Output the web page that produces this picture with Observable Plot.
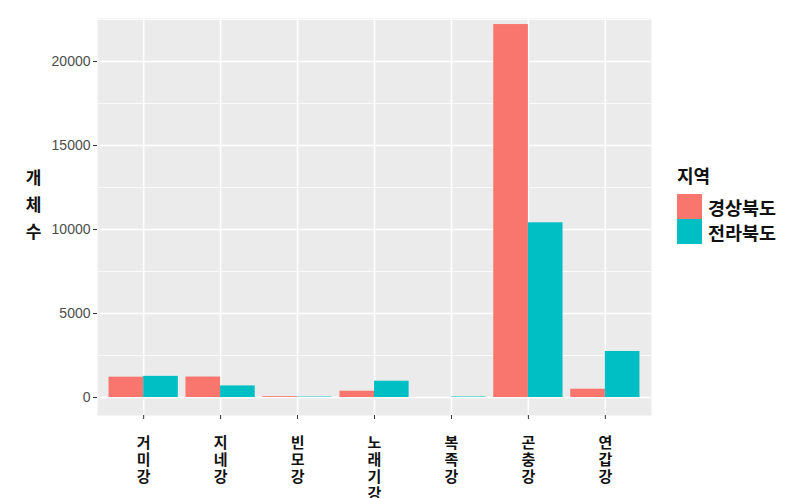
<!DOCTYPE html>
<html>
<head>
<meta charset="utf-8">
<script src="https://cdn.jsdelivr.net/npm/d3@7"></script>
<script src="https://cdn.jsdelivr.net/npm/@observablehq/plot@0.6"></script>
<style>
  html, body { margin: 0; padding: 0; background: #fff; }
  #wrap { position: relative; width: 786px; height: 498px; overflow: hidden; }
  #legend { position: absolute; left: 677px; top: 162px; font-family: "Noto Sans CJK KR", sans-serif; color: #111; }
  #legend .title { font-size: 18px; font-weight: bold; margin-bottom: 6px; }
  #legend .row { display: flex; align-items: center; height: 25px; }
  #legend .sw { width: 25px; height: 25px; margin-right: 6px; }
  #legend .lab { font-size: 18.5px; font-weight: bold; }
</style>
</head>
<body>
<div id="wrap"><div id="chart"></div><div id="legend"></div></div>
<script>
const categories = ["거미강", "지네강", "빈모강", "노래기강", "복족강", "곤충강", "연갑강"];
const regions = ["경상북도", "전라북도"];
const gyeongbuk = [1210, 1220, 50, 375, 0, 22200, 495];
const jeonbuk = [1260, 690, 25, 970, 30, 10400, 2740];
const colors = ["#F8766D", "#00BFC4"];
const yTicks = [0, 5000, 10000, 15000, 20000];
const yMinor = [2500, 7500, 12500, 17500, 22500];

const series = [gyeongbuk, jeonbuk];
const rows = [];
categories.forEach((c, i) => {
  regions.forEach((r, g) => {
    rows.push({category: c, region: r, x1: i - 0.45 + 0.45 * g, x2: i + 0.45 * g, value: series[g][i]});
  });
});
const idx = categories.map((_, i) => i);

const chart = Plot.plot({
  width: 786,
  height: 498,
  marginLeft: 97,
  marginRight: 135,
  marginTop: 18,
  marginBottom: 83,
  style: {fontFamily: "'Noto Sans CJK KR', sans-serif", background: "white"},
  x: {type: "linear", domain: [-0.6, categories.length - 0.4], axis: null},
  y: {domain: [-1071, 22560], axis: null},
  color: {domain: regions, range: colors},
  marks: [
    Plot.frame({fill: "#EBEBEB", stroke: null}),
    Plot.ruleY(yMinor, {stroke: "white", strokeWidth: 0.8}),
    Plot.ruleY(yTicks, {stroke: "white", strokeWidth: 1.6}),
    Plot.ruleX(idx, {stroke: "white", strokeWidth: 1.6}),
    Plot.rectY(rows, {x1: "x1", x2: "x2", y: "value", fill: "region"}),
    Plot.axisY({
      ticks: yTicks, tickSize: 4, tickPadding: 3, stroke: "#333", fill: "#4D4D4D",
      fontSize: 14, fontFamily: "'Liberation Sans', Arial, sans-serif", label: null,
      tickFormat: d => String(d)
    }),
    Plot.axisX({
      ticks: idx, tickSize: 4, tickPadding: 17, stroke: "#333", fill: "#111",
      fontSize: 15, fontWeight: "bold", lineHeight: 1.12, label: null,
      tickFormat: i => categories[i].split("").join("\n")
    }),
    Plot.text(["개\n체\n수"], {
      frameAnchor: "left", dx: -64, dy: -15, text: d => d,
      fontSize: 17, fontWeight: "bold", lineHeight: 1.6, fill: "#111", textAnchor: "middle"
    })
  ]
});
document.getElementById("chart").appendChild(chart);

const leg = document.getElementById("legend");
leg.innerHTML = `<div class="title">지역</div>` + regions.map((r, g) =>
  `<div class="row"><div class="sw" style="background:${colors[g]}"></div><div class="lab">${r}</div></div>`).join("");
</script>
</body>
</html>
